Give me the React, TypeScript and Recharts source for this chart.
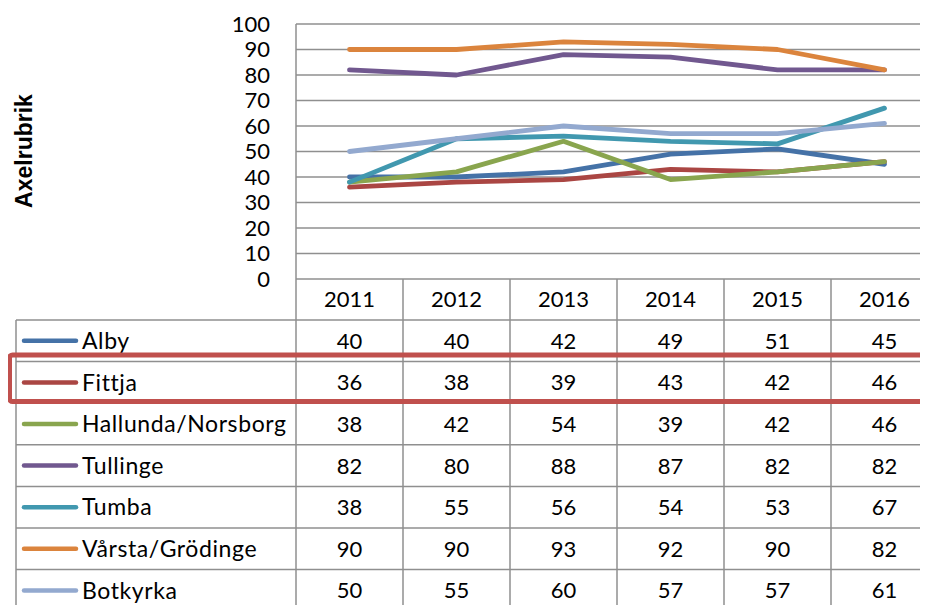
import { LineChart, Line, XAxis, YAxis, CartesianGrid } from 'recharts'

const YEARS = ['2011', '2012', '2013', '2014', '2015', '2016']
const SERIES_NAMES = ['Alby', 'Fittja', 'Hallunda/Norsborg', 'Tullinge', 'Tumba', 'Vårsta/Grödinge', 'Botkyrka']
const SERIES_COLORS = ['#4572A7', '#AA4643', '#89A54E', '#71588F', '#4198AF', '#DB843D', '#93A9CF']

const alby = [40, 40, 42, 49, 51, 45]
const fittja = [36, 38, 39, 43, 42, 46]
const hallunda = [38, 42, 54, 39, 42, 46]
const tullinge = [82, 80, 88, 87, 82, 82]
const tumba = [38, 55, 56, 54, 53, 67]
const varsta = [90, 90, 93, 92, 90, 82]
const botkyrka = [50, 55, 60, 57, 57, 61]

const SERIES_VALUES = [alby, fittja, hallunda, tullinge, tumba, varsta, botkyrka]
const Y_TICKS = [0, 10, 20, 30, 40, 50, 60, 70, 80, 90, 100]

const data = YEARS.map((year, i) => {
  const row: Record<string, string | number> = { year }
  SERIES_NAMES.forEach((name, s) => {
    row[name] = SERIES_VALUES[s][i]
  })
  return row
})

const FONT = 'Lato, "Noto Sans", sans-serif'
const GRID = '#8f8f8f'

// layout of the data table (matches the plot columns above it)
const PLOT_LEFT = 296
const COL_W = 107
const HEADER_TOP = 279
const BODY_TOP = 320
const ROW_H = 41.6
const TABLE_LEFT = 16

function DataTable() {
  const colXs = YEARS.map((_, i) => PLOT_LEFT + i * COL_W)
  const right = PLOT_LEFT + YEARS.length * COL_W
  const bottom = BODY_TOP + ROW_H * SERIES_NAMES.length
  return (
    <svg width={940} height={613} style={{ position: 'absolute', left: 0, top: 0 }}>
      {/* vertical lines */}
      {[...colXs, right].map((x, i) => (
        <line key={`v${i}`} x1={x} x2={x} y1={HEADER_TOP} y2={bottom} stroke={GRID} strokeWidth={1.5} />
      ))}
      <line x1={TABLE_LEFT} x2={TABLE_LEFT} y1={BODY_TOP} y2={bottom} stroke={GRID} strokeWidth={1.5} />
      {/* horizontal lines */}
      {SERIES_NAMES.map((_, i) => (
        <line
          key={`h${i}`}
          x1={TABLE_LEFT}
          x2={right}
          y1={BODY_TOP + i * ROW_H}
          y2={BODY_TOP + i * ROW_H}
          stroke={GRID}
          strokeWidth={1.5}
        />
      ))}
      {/* header */}
      {YEARS.map((y, i) => (
        <text
          key={y}
          x={colXs[i] + COL_W / 2}
          y={(HEADER_TOP + BODY_TOP) / 2}
          dy="0.36em"
          textAnchor="middle"
          fontFamily={FONT}
          fontSize={22}
          fill="#000"
        >
          {y}
        </text>
      ))}
      {/* rows */}
      {SERIES_NAMES.map((name, s) => {
        const cy = BODY_TOP + ROW_H * (s + 0.5)
        return (
          <g key={name}>
            <line x1={24} x2={76} y1={cy} y2={cy} stroke={SERIES_COLORS[s]} strokeWidth={4.5} strokeLinecap="round" />
            <text x={82} y={cy} dy="0.36em" fontFamily={FONT} fontSize={23} letterSpacing={0.6} fill="#000">
              {name}
            </text>
            {SERIES_VALUES[s].map((v, i) => (
              <text
                key={i}
                x={colXs[i] + COL_W / 2}
                y={cy}
                dy="0.36em"
                textAnchor="middle"
                fontFamily={FONT}
                fontSize={22}
                fill="#000"
              >
                {v}
              </text>
            ))}
          </g>
        )
      })}
      {/* highlight box round Fittja */}
      <rect x={9.5} y={355} width={940} height={46.5} rx={3} fill="none" stroke="#C0504D" strokeWidth={5} />
      <text
        transform="translate(32 151) rotate(-90)"
        textAnchor="middle"
        fontFamily='"Liberation Sans", Arial, sans-serif'
        fontWeight="bold"
        fontSize={23}
        fill="#000"
      >
        Axelrubrik
      </text>
    </svg>
  )
}

export default function App() {
  return (
    <div style={{ position: 'relative', margin: -8, width: 940, height: 613, overflow: 'hidden', background: '#fff' }}>
      <div style={{ position: 'absolute', left: 0, top: 0 }}>
        <LineChart width={940} height={300} data={data} margin={{ top: 24, right: 2, bottom: 21, left: 236 }}>
          <CartesianGrid vertical={false} stroke={GRID} strokeWidth={1.5} horizontalValues={Y_TICKS} />
          <XAxis dataKey="year" hide padding={{ left: COL_W / 2, right: COL_W / 2 }} />
          <YAxis
            width={60}
            domain={[0, 100]}
            ticks={Y_TICKS}
            interval={0}
            tickLine={false}
            tickSize={0}
            tickMargin={26}
            axisLine={{ stroke: GRID, strokeWidth: 1.5 }}
            tick={{ fontFamily: FONT, fontSize: 22, fill: '#000' }}
          />
          {SERIES_NAMES.map((name, s) => (
            <Line
              key={name}
              type="linear"
              dataKey={name}
              stroke={SERIES_COLORS[s]}
              strokeWidth={4.8}
              strokeLinecap="round"
              strokeLinejoin="round"
              dot={false}
              activeDot={false}
              isAnimationActive={false}
            />
          ))}
        </LineChart>
      </div>
      <DataTable />
    </div>
  )
}
